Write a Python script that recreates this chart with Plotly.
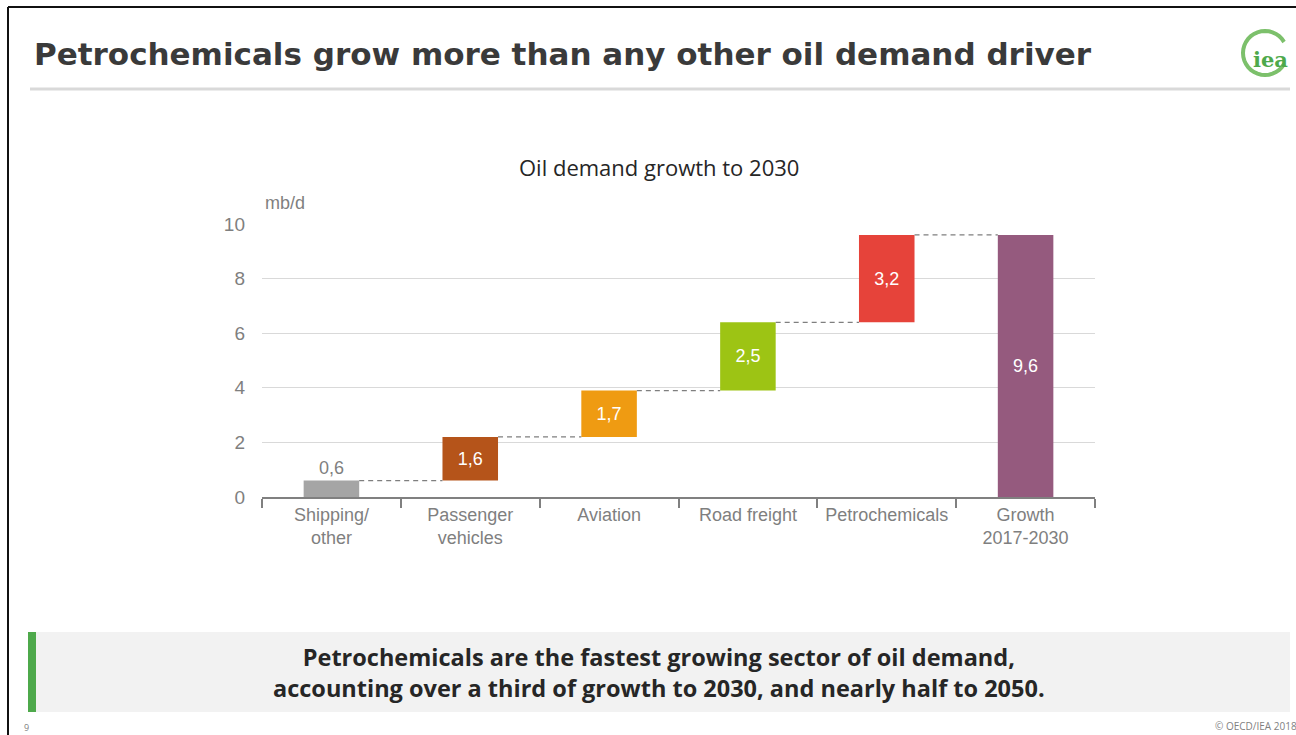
import math
import plotly.graph_objects as go

categories = ["Shipping/<br>other", "Passenger<br>vehicles", "Aviation", "Road freight", "Petrochemicals", "Growth<br>2017-2030"]
values = [0.6, 1.6, 1.7, 2.5, 3.2, 9.6]
is_total = [False, False, False, False, False, True]
colors = ["#A5A5A5", "#B5541A", "#EF9B12", "#9DC414", "#E6433A", "#955A7E"]
y_ticks = [0, 2, 4, 6, 8, 10]

# bases computed from values (waterfall)
bases = []
run = 0.0
for v, t in zip(values, is_total):
    if t:
        bases.append(0.0)
    else:
        bases.append(run)
        run += v
tops = [b + v for b, v in zip(bases, values)]

bar_w = 0.4
textpos = ["outside"] + ["inside"] * (len(values) - 1)

W, H = 1296, 735
def px(x):
    return x / W
def py(y):
    return 1 - y / H

fig = go.Figure()
fig.add_trace(go.Bar(
    x=categories, y=values, base=bases, width=bar_w,
    marker=dict(color=colors, line=dict(width=0)),
    texttemplate="%{y:.1f}", textposition=textpos,
    insidetextanchor="middle", constraintext="none",
    insidetextfont=dict(color="white", size=18, family="Liberation Sans"),
    outsidetextfont=dict(color="#7F7F7F", size=18, family="Liberation Sans"),
    cliponaxis=False, hoverinfo="skip",
))

shapes = []
# connectors
for i in range(len(values) - 1):
    lvl = tops[i]
    shapes.append(dict(type="line", xref="x", yref="y",
                       x0=i + bar_w / 2, x1=i + 1 - bar_w / 2, y0=lvl, y1=lvl,
                       line=dict(color="#7F7F7F", width=1.2, dash="5px,4px"), layer="above"))

# frame
shapes.append(dict(type="line", xref="paper", yref="paper", x0=px(8), x1=1.01, y0=py(7), y1=py(7),
                   line=dict(color="#111111", width=2)))
shapes.append(dict(type="line", xref="paper", yref="paper", x0=px(8), x1=px(8), y0=-0.01, y1=py(7),
                   line=dict(color="#111111", width=2)))
# title underline
shapes.append(dict(type="line", xref="paper", yref="paper", x0=px(30), x1=px(1290), y0=py(89), y1=py(89),
                   line=dict(color="#D9D9D9", width=3)))
# bottom box
shapes.append(dict(type="rect", xref="paper", yref="paper", x0=px(28), x1=px(1290), y0=py(712), y1=py(632),
                   fillcolor="#F2F2F2", line=dict(width=0), layer="below"))
shapes.append(dict(type="rect", xref="paper", yref="paper", x0=px(28), x1=px(36), y0=py(712), y1=py(632),
                   fillcolor="#4EA94B", line=dict(width=0)))
# iea logo arc
cx, cy, r = 1265, 53, 22
pts = []
for k in range(0, 301, 10):
    a = math.radians(-30 - k)
    pts.append((px(cx + r * math.cos(a)), py(cy - r * math.sin(a))))
path = "M " + " L ".join(f"{x:.5f},{y:.5f}" for x, y in pts)
shapes.append(dict(type="path", xref="paper", yref="paper", path=path,
                   line=dict(color="#7CC06B", width=4)))

annotations = [
    dict(text="<b>Petrochemicals grow more than any other oil demand driver</b>", xref="paper", yref="paper",
         x=px(32), y=py(54), xanchor="left", yanchor="middle", showarrow=False,
         font=dict(family="DejaVu Sans", size=31, color="#3A3A3A")),
    dict(text="<b>iea</b>", xref="paper", yref="paper", x=px(1270), y=py(59), xanchor="center", yanchor="middle",
         showarrow=False, font=dict(family="DejaVu Serif", size=21, color="#4EA94B")),
    dict(text="Oil demand growth to 2030", xref="paper", yref="paper", x=px(659), y=py(167),
         xanchor="center", yanchor="middle", showarrow=False,
         font=dict(family="Open Sans", size=22, color="#262626")),
    dict(text="mb/d", xref="paper", yref="paper", x=px(263), y=py(203), xanchor="left", yanchor="middle",
         showarrow=False, font=dict(family="Liberation Sans", size=18, color="#7F7F7F")),
    dict(text="<b>Petrochemicals are the fastest growing sector of oil demand,<br>accounting over a third of growth to 2030, and nearly half to 2050.</b>",
         xref="paper", yref="paper", x=px(659), y=py(672), xanchor="center", yanchor="middle",
         showarrow=False, align="center",
         font=dict(family="Open Sans", size=23.5, color="#262626")),
    dict(text="9", xref="paper", yref="paper", x=px(22), y=py(727), xanchor="left", yanchor="middle",
         showarrow=False, font=dict(family="Open Sans", size=9, color="#7F7F7F")),
    dict(text="© OECD/IEA 2018", xref="paper", yref="paper", x=px(1213), y=py(726), xanchor="left", yanchor="middle",
         showarrow=False, font=dict(family="Open Sans", size=10, color="#7F7F7F")),
]

fig.update_layout(
    width=W, height=H,
    margin=dict(l=0, r=0, t=0, b=0, pad=0, autoexpand=False),
    paper_bgcolor="white", plot_bgcolor="white",
    separators=", ",
    showlegend=False,
    shapes=shapes, annotations=annotations,
    xaxis=dict(domain=[px(262), px(1095)], type="category", tickson="boundaries",
               ticks="outside", ticklen=9, tickcolor="#808080", tickwidth=1.5,
               showline=True, linecolor="#808080", linewidth=2, showgrid=False,
               tickangle=0, automargin=False,
               tickfont=dict(family="Liberation Sans", size=18, color="#7F7F7F"),
               fixedrange=True),
    yaxis=dict(domain=[py(497), py(224)], range=[0, 10], tickvals=y_ticks,
               showgrid=True, gridcolor="#D9D9D9", gridwidth=1, zeroline=False,
               showline=False, ticks="", ticklabelstandoff=16, automargin=False,
               tickfont=dict(family="Liberation Sans", size=19, color="#7F7F7F"),
               fixedrange=True),
)

post = ("document.documentElement.style.margin='0';document.body.style.margin='0';"
        "document.body.style.overflow='hidden';"
        "var gd=document.getElementById('{plot_id}');gd.style.position='fixed';"
        "gd.style.top='0px';gd.style.left='0px';")
fig.write_html("out.html", post_script=post, config={"displayModeBar": False})
